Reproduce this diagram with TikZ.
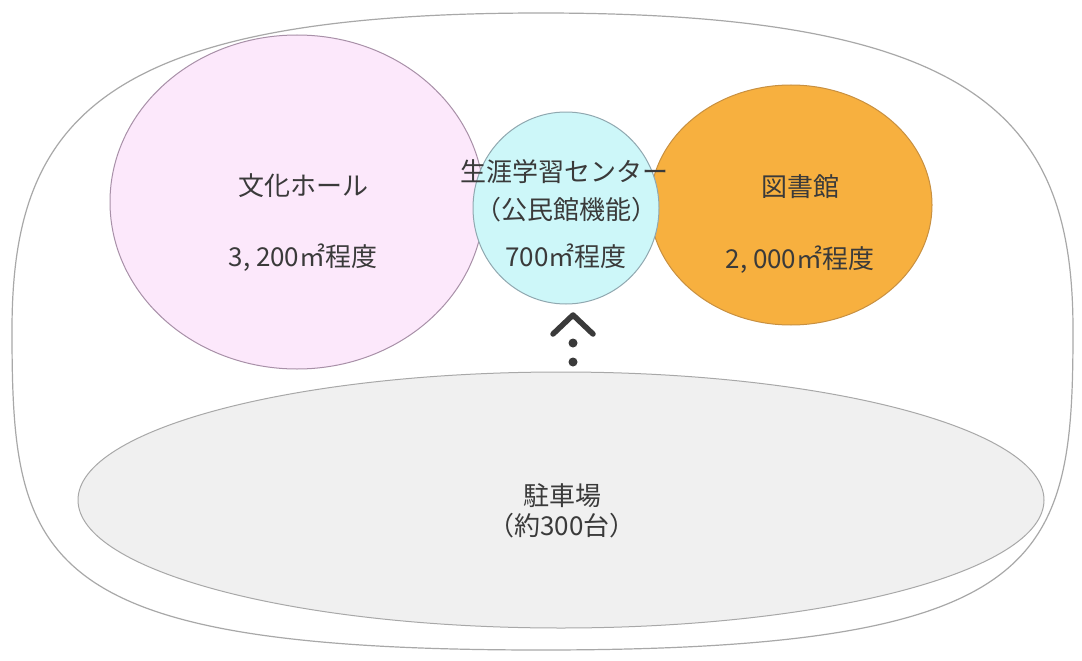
\documentclass[tikz,border=0pt]{standalone}
\usepackage{fontspec}
\setmainfont{Noto Sans CJK JP}
\definecolor{pinkf}{HTML}{FCE8FB}
\definecolor{pinkd}{HTML}{A890A8}
\definecolor{cyanf}{HTML}{CDF7F9}
\definecolor{cyand}{HTML}{90A8B0}
\definecolor{orangef}{HTML}{F7B03F}
\definecolor{oranged}{HTML}{C89040}
\definecolor{grayf}{HTML}{F0F0F0}
\definecolor{grayd}{HTML}{A8A8A8}
\definecolor{txt}{HTML}{3A3A3A}
\tikzset{
  lbl/.style={text=txt, font=\fontsize{26}{30}\selectfont, inner sep=0pt},
  bubble/.style={line width=1pt},
}
\begin{document}
\begin{tikzpicture}[x=1pt,y=-1pt]
\useasboundingbox (0,0) rectangle (1082,661);
\fill[white] (0,0) rectangle (1082,661);
% outer blob
\draw[grayd, line width=1.2pt] (12,330) .. controls (12,120) and (100,13) .. (541,13)
  .. controls (982,13) and (1073,120) .. (1073,330)
  .. controls (1073,560) and (1050,650) .. (541,650)
  .. controls (32,650) and (12,560) .. (12,330) -- cycle;
% bubbles
\draw[bubble, pinkd, fill=pinkf] (297,202) ellipse [x radius=187, y radius=167];
\draw[bubble, oranged, fill=orangef] (791,205) ellipse [x radius=141, y radius=120];
\draw[bubble, cyand, fill=cyanf] (566,208) ellipse [x radius=93, y radius=96];
\draw[bubble, grayd, fill=grayf] (561,500) ellipse [x radius=483, y radius=128];
% labels
\node[lbl] (hall) at (303,186) {文化ホール};
\node[lbl] (hallA) at (303,258) {3, 200㎡程度};
\node[lbl] (center) at (564,172) {生涯学習センター};
\node[lbl] (centerB) at (566,210) {（公民館機能）};
\node[lbl] (centerA) at (566,256) {700㎡程度};
\node[lbl] (lib) at (800,187) {図書館};
\node[lbl] (libA) at (800,260) {2, 000㎡程度};
\node[lbl, align=center] (park) at (562,511) {駐車場\\（約300台）};
% access mark
\coordinate (cl) at (553,334);
\coordinate (ct) at (573,315);
\coordinate (cr) at (593,334);
\draw[txt, line width=5.5pt, line cap=round, line join=round] (cl) -- (ct) -- (cr);
\fill[txt] (573,343) circle (4.5);
\fill[txt] (573,362) circle (4.5);
\end{tikzpicture}
\end{document}
